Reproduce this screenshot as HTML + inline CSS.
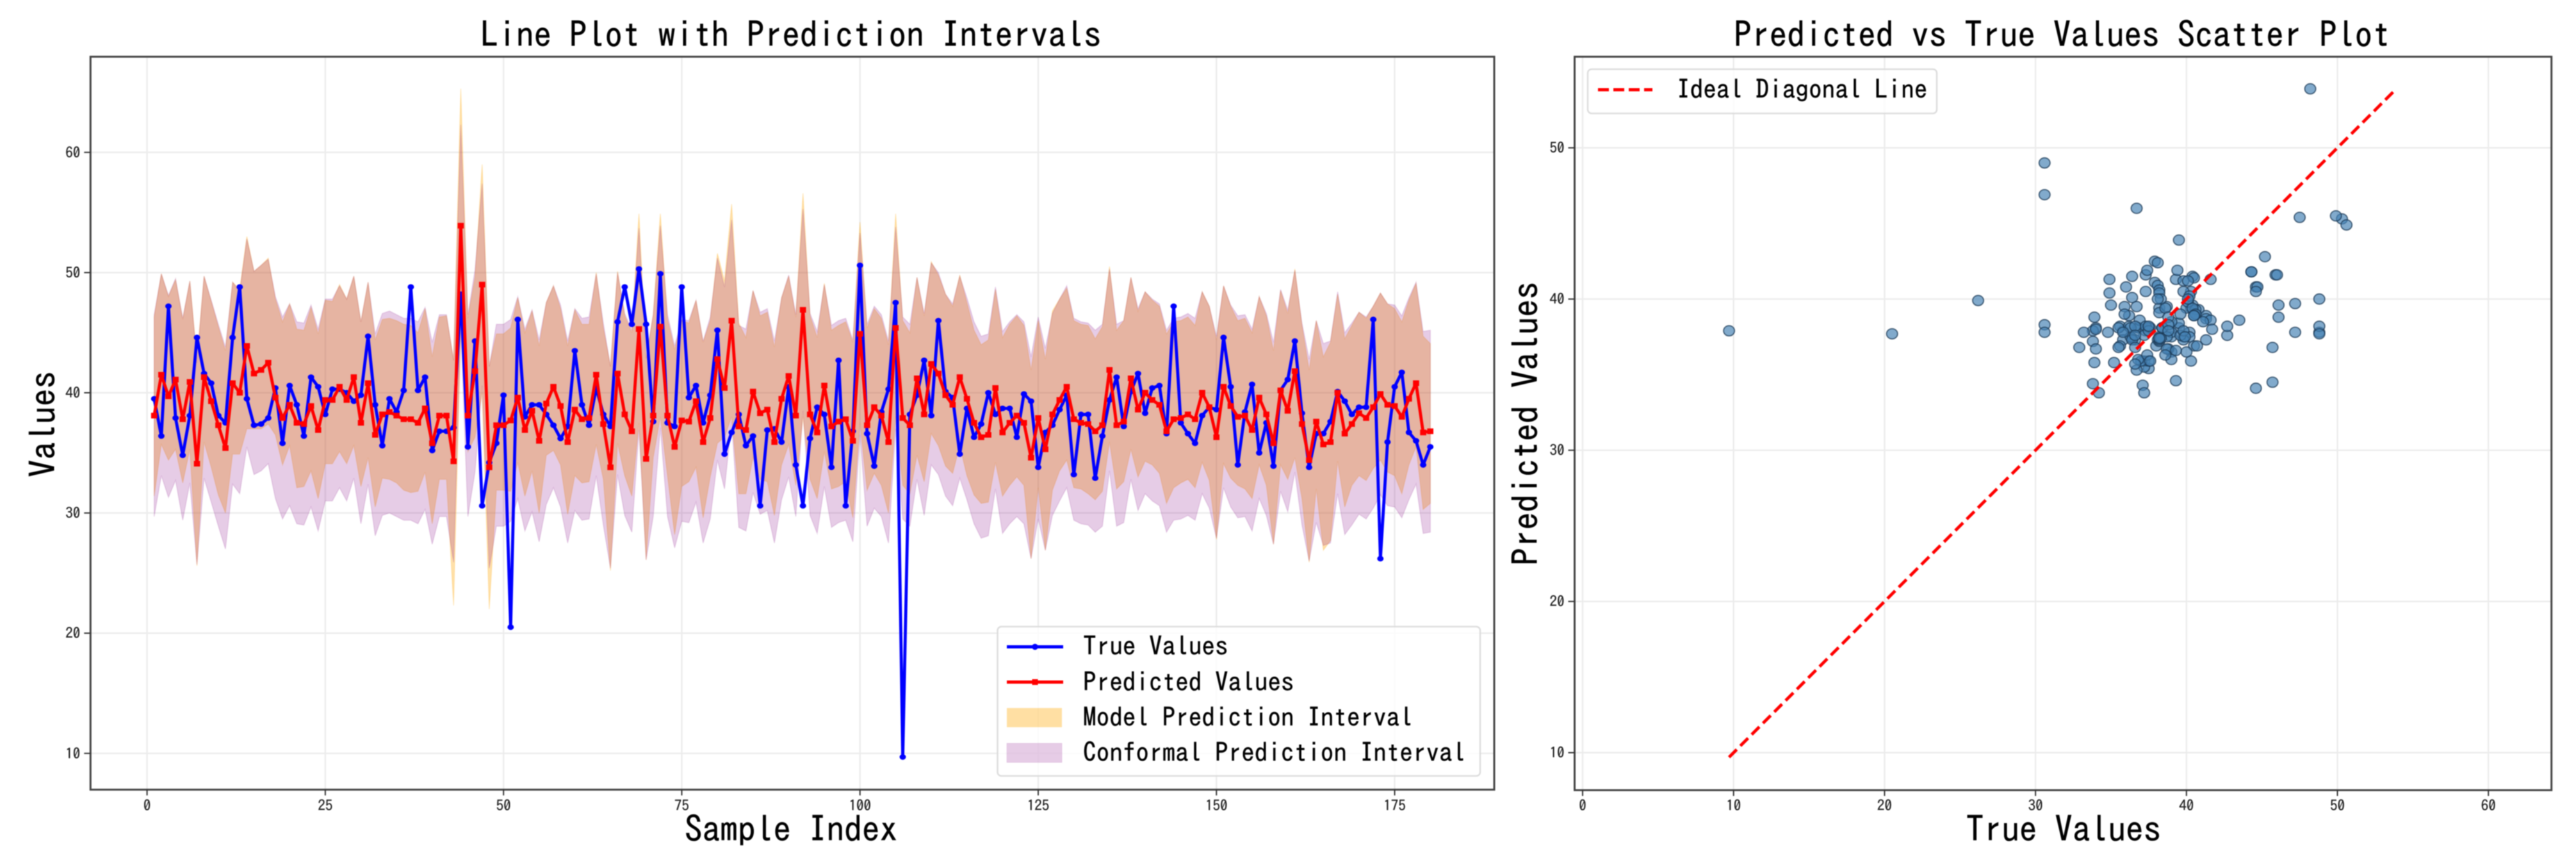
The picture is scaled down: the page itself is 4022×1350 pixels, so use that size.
<!DOCTYPE html>
<html lang="en">
<head>
<meta charset="utf-8">
<title>Prediction Interval Charts</title>
<style>
html,body{margin:0;padding:0;background:#fff;}
body{width:4022px;height:1350px;overflow:hidden;}
svg{display:block;filter:blur(0.7px);}
text{font-family:"IPAGothic","Liberation Mono","Noto Sans CJK JP",monospace;fill:#000;}
.title,.axis-title{font-size:55.4px;text-anchor:middle;stroke:#000;stroke-width:0.5px;}
.legend-text{font-size:41.2px;stroke:#000;stroke-width:0.4px;}
.tick-text{font-size:23px;fill:#222;stroke:#222;stroke-width:0.3px;}
</style>
</head>
<body>
<svg id="figure" width="4022" height="1350" viewBox="0 0 4022 1350" xmlns="http://www.w3.org/2000/svg">
  <rect x="0" y="0" width="4022" height="1350" fill="#fff"/>

  <g id="line-panel">
    <g id="line-grid"></g>
    <g id="line-bands"></g>
    <g id="line-series"></g>
    <rect x="141.3" y="88.5" width="2191.7" height="1143.9" fill="none" stroke="#444" stroke-width="3"/>
    <g id="line-ticks"></g>
    <text class="title" x="1235" y="74">Line Plot with Prediction Intervals</text>
    <text class="axis-title" x="1235" y="1314">Sample Index</text>
    <text class="axis-title" transform="translate(87 662) rotate(-90)">Values</text>
    <g>
      <rect x="1557.5" y="978" width="753.5" height="233" rx="6" fill="#fff" fill-opacity="0.8" stroke="#ddd" stroke-width="2.5"/>
      <g>
        <line x1="1572" y1="1009.5" x2="1660" y2="1009.5" stroke="#0000ff" stroke-width="5"/>
        <circle cx="1616" cy="1009.5" r="4.8" fill="#0000ff"/>
        <text class="legend-text" x="1691" y="1023">True Values</text>
      </g>
      <g>
        <line x1="1572" y1="1064.5" x2="1660" y2="1064.5" stroke="#ff0000" stroke-width="5"/>
        <rect x="1611.5" y="1060" width="9" height="9" fill="#ff0000"/>
        <text class="legend-text" x="1691" y="1079">Predicted Values</text>
      </g>
      <g>
        <rect x="1572" y="1105" width="86" height="30" fill="#ffa500" fill-opacity="0.36"/>
        <text class="legend-text" x="1691" y="1134">Model Prediction Interval</text>
      </g>
      <g>
        <rect x="1572" y="1160" width="86" height="30" fill="#800080" fill-opacity="0.2" stroke="#800080" stroke-opacity="0.1"/>
        <text class="legend-text" x="1691" y="1189">Conformal Prediction Interval</text>
      </g>
    </g>
  </g>

  <g id="scatter-panel">
    <g id="scatter-grid"></g>
    <g id="scatter-points"></g>
    <g id="scatter-diagonal"></g>
    <rect x="2458.5" y="88.5" width="1525.2" height="1144.7" fill="none" stroke="#444" stroke-width="3"/>
    <g id="scatter-ticks"></g>
    <text class="title" x="3219.5" y="74">Predicted vs True Values Scatter Plot</text>
    <text class="axis-title" x="3222" y="1314">True Values</text>
    <text class="axis-title" transform="translate(2402 661) rotate(-90)">Predicted Values</text>
    <g>
      <rect x="2479" y="108" width="545" height="69" rx="6" fill="#fff" fill-opacity="0.8" stroke="#ddd" stroke-width="2.5"/>
      <g>
        <line x1="2495" y1="140" x2="2580" y2="140" stroke="#ff0000" stroke-width="5" stroke-dasharray="17 7"/>
        <text class="legend-text" x="2618" y="154">Ideal Diagonal Line</text>
      </g>
    </g>
  </g>
</svg>

<script>
const trueValues = [
39.5,36.4,47.2,37.9,34.8,38.1,44.6,41.6,40.8,38.1,
37.5,44.6,48.8,39.5,37.3,37.4,37.9,40.4,35.8,40.6,
39.0,36.4,41.3,40.5,38.2,40.3,40.3,40.0,39.3,39.8,
44.7,39.0,35.6,39.5,38.4,40.2,48.8,40.2,41.3,35.2,
36.8,36.8,37.1,48.2,35.5,44.3,30.6,34.2,35.8,39.8,
20.5,46.1,38.0,39.0,39.0,38.2,37.3,36.2,37.2,43.5,
39.0,37.3,40.4,38.2,37.2,45.9,48.8,45.7,50.3,45.7,
37.6,49.9,37.5,37.2,48.8,39.6,40.6,37.5,39.8,45.2,
34.9,36.7,38.2,35.6,36.4,30.6,36.9,37.0,35.9,40.5,
34.0,30.6,36.2,38.8,38.2,33.8,42.7,30.6,36.8,50.6,
36.6,33.9,38.4,40.3,47.5,9.7,38.2,39.8,42.7,38.1,
46.0,40.1,39.6,34.9,38.7,36.3,37.4,40.0,38.2,38.7,
38.7,36.3,39.9,39.3,33.8,36.7,37.3,38.6,39.8,33.2,
38.2,38.2,32.9,36.4,39.4,41.3,37.2,40.1,41.6,38.3,
40.4,40.6,36.6,47.2,37.5,36.6,35.8,38.1,38.8,38.6,
44.6,40.5,34.0,38.4,40.7,35.0,37.5,33.9,40.2,41.1,
44.3,38.3,33.8,36.6,36.6,37.6,40.1,39.3,38.2,38.8,
38.8,46.1,26.2,35.9,40.5,41.7,36.7,36.0,34.0,35.5];

const predictedValues = [
38.1,41.5,39.7,41.1,37.8,40.9,34.1,41.3,39.3,37.3,
35.4,40.8,40.0,43.9,41.6,41.9,42.5,39.6,37.9,39.0,
37.5,37.4,38.9,36.9,39.4,39.4,40.5,39.4,41.3,37.5,
40.8,36.5,38.2,38.4,38.1,37.8,37.8,37.5,38.7,35.8,
38.1,38.1,34.3,53.9,38.1,41.8,49.0,33.8,37.3,37.3,
37.7,39.6,36.9,38.5,36.0,39.1,40.5,38.9,35.9,38.6,
37.8,37.9,41.5,37.4,33.8,41.6,38.2,36.8,45.3,34.5,
38.1,45.5,38.1,35.5,37.7,37.6,39.3,35.9,37.9,42.8,
40.4,46.0,37.2,36.9,40.1,38.3,38.6,35.9,39.5,41.4,
38.1,46.9,38.2,36.7,40.6,37.2,37.6,37.8,36.0,44.9,
37.3,38.8,38.1,35.9,45.4,37.9,37.3,41.2,38.2,42.4,
41.6,39.8,39.0,41.3,39.5,37.5,36.3,36.5,40.4,36.7,
37.5,38.1,37.5,34.6,37.9,35.3,38.2,39.4,40.5,37.8,
37.5,37.4,36.8,37.3,41.9,37.3,37.6,41.2,38.6,40.0,
39.4,39.0,36.8,37.8,37.9,38.2,37.8,40.0,38.8,36.3,
40.5,38.9,38.0,38.1,36.9,39.6,38.2,35.8,40.2,38.5,
41.8,37.4,34.4,37.6,35.7,35.9,40.0,36.6,37.4,38.3,
37.9,38.8,39.9,39.0,38.9,38.0,39.5,40.8,36.7,36.8];

const modelUpper = [
46.3,49.9,48.0,49.4,46.1,49.3,42.8,49.7,47.6,45.5,
43.5,49.2,48.6,53.0,50.1,50.6,51.2,47.8,45.9,47.4,
45.3,45.2,47.1,44.9,47.7,47.6,49.0,47.8,49.7,45.9,
49.2,44.4,46.1,46.2,46.0,45.7,45.6,45.0,47.0,43.0,
46.3,46.4,42.7,65.3,46.2,49.6,59.0,42.2,44.9,44.9,
45.4,47.9,45.0,46.8,43.9,47.5,48.9,47.0,43.9,46.9,
45.7,45.7,50.0,45.4,42.2,50.1,46.4,45.0,54.9,42.8,
46.5,54.9,46.1,43.6,46.0,45.8,47.7,44.2,46.0,51.6,
49.3,55.7,45.8,44.6,48.5,46.4,46.7,43.8,47.9,49.7,
46.3,56.6,46.4,44.6,49.1,45.2,45.6,45.9,44.2,54.2,
45.4,47.0,46.2,44.0,54.9,46.0,45.0,49.6,46.4,50.9,
49.8,48.2,47.2,49.8,47.5,45.2,44.0,44.4,48.6,44.6,
45.7,46.4,45.6,41.9,46.0,42.8,46.8,47.8,48.7,46.0,
45.7,45.6,44.5,45.5,50.5,45.2,46.0,49.6,46.8,48.4,
47.7,47.2,44.9,45.9,46.0,46.3,45.6,48.4,47.2,44.4,
48.9,47.2,46.0,46.2,45.0,48.0,46.4,43.5,48.5,46.6,
50.3,45.6,41.9,46.0,43.0,44.2,48.2,44.5,45.6,46.7,
46.2,47.2,48.3,47.4,47.0,45.9,47.7,49.1,44.7,44.1];

const modelLower = [
31.4,35.7,34.4,35.3,32.5,35.3,25.6,35.9,33.8,31.5,
30.0,34.9,34.9,37.0,37.0,37.0,37.4,36.5,34.0,35.6,
32.1,32.2,33.5,31.2,34.1,34.1,35.1,34.1,35.6,32.2,
34.6,30.5,32.9,32.8,32.5,31.9,31.7,31.8,33.4,29.1,
32.8,32.8,22.3,45.0,35.1,36.3,40.0,22.0,31.9,31.9,
31.8,34.2,31.4,33.5,30.0,34.8,35.2,34.0,29.9,33.1,
32.5,32.6,35.7,32.8,25.2,35.8,33.1,31.4,37.5,26.1,
34.6,38.0,33.1,28.2,32.2,32.6,33.8,29.6,33.0,35.8,
36.3,38.0,31.6,31.6,34.6,32.8,32.6,29.8,34.0,35.7,
32.3,38.0,32.8,31.2,35.1,32.0,32.2,32.6,29.6,37.5,
31.9,33.3,32.3,30.0,38.0,32.3,31.6,34.8,32.6,36.6,
35.6,33.9,33.3,35.6,33.1,31.5,30.8,30.9,34.2,31.4,
32.3,33.0,32.3,26.2,32.1,26.9,31.9,33.5,34.4,32.1,
32.0,31.6,31.1,31.8,35.9,32.0,32.6,35.3,33.0,34.3,
34.0,33.3,30.8,32.1,32.5,32.8,32.1,34.2,32.7,27.8,
34.1,32.9,32.3,32.0,31.2,34.0,32.3,27.4,34.0,32.8,
34.6,31.2,25.9,32.0,26.9,27.7,34.3,30.5,32.3,33.1,
32.7,33.7,34.4,33.4,33.1,31.6,34.0,35.5,30.3,30.8];

const conformalUpper = [
46.5,49.9,48.1,49.5,46.2,49.3,42.5,49.7,47.7,45.7,
43.8,49.2,48.4,52.8,50.1,50.6,51.1,48.0,46.3,47.4,
45.9,45.8,47.3,45.3,47.8,47.8,48.9,47.8,49.7,45.9,
49.2,44.9,46.6,46.8,46.5,46.2,46.2,45.9,47.1,44.2,
46.5,46.5,42.7,62.3,46.5,50.2,57.4,42.2,45.7,45.7,
46.1,48.0,45.3,46.9,44.4,47.5,48.9,47.3,44.3,47.0,
46.2,46.3,49.9,45.8,42.2,50.0,46.6,45.2,53.7,42.9,
46.5,53.9,46.5,43.9,46.1,46.0,47.7,44.3,46.3,51.2,
48.8,54.4,45.6,45.3,48.5,46.7,47.0,44.3,47.9,49.8,
46.5,55.3,46.6,45.1,49.0,45.6,46.0,46.2,44.4,53.3,
45.7,47.2,46.5,44.3,53.8,46.3,45.7,49.6,46.6,50.8,
50.0,48.2,47.4,49.7,47.9,45.9,44.7,44.9,48.8,45.1,
45.9,46.5,45.9,43.0,46.3,43.7,46.6,47.8,48.9,46.2,
45.9,45.8,45.2,45.7,50.3,45.7,46.0,49.6,47.0,48.4,
47.8,47.4,45.2,46.2,46.3,46.6,46.2,48.4,47.2,44.7,
48.9,47.3,46.4,46.5,45.3,48.0,46.6,44.2,48.6,46.9,
50.2,45.8,42.8,46.0,44.1,44.3,48.4,45.0,45.8,46.7,
46.3,47.2,48.3,47.4,47.3,46.4,47.9,49.2,45.1,45.2];

const conformalLower = [
29.7,33.1,31.3,32.7,29.4,32.5,25.7,32.9,30.9,28.9,
27.0,32.4,31.6,35.5,33.2,33.5,34.1,31.2,29.5,30.6,
29.1,29.0,30.5,28.5,31.0,31.0,32.1,31.0,32.9,29.1,
32.4,28.1,29.8,30.0,29.7,29.4,29.4,29.1,30.3,27.4,
29.7,29.7,25.9,45.5,29.7,33.4,40.6,25.4,28.9,28.9,
29.3,31.2,28.5,30.1,27.6,30.7,32.1,30.5,27.5,30.2,
29.4,29.5,33.1,29.0,25.4,33.2,29.8,28.4,36.9,26.1,
29.7,37.1,29.7,27.1,29.3,29.2,30.9,27.5,29.5,34.4,
32.0,37.6,28.8,28.5,31.7,29.9,30.2,27.5,31.1,33.0,
29.7,38.5,29.8,28.3,32.2,28.8,29.2,29.4,27.6,36.5,
28.9,30.4,29.7,27.5,37.0,29.5,28.9,32.8,29.8,34.0,
33.2,31.4,30.6,32.9,31.1,29.1,27.9,28.1,32.0,28.3,
29.1,29.7,29.1,26.2,29.5,26.9,29.8,31.0,32.1,29.4,
29.1,29.0,28.4,28.9,33.5,28.9,29.2,32.8,30.2,31.6,
31.0,30.6,28.4,29.4,29.5,29.8,29.4,31.6,30.4,27.9,
32.1,30.5,29.6,29.7,28.5,31.2,29.8,27.4,31.8,30.1,
33.4,29.0,26.0,29.2,27.3,27.5,31.6,28.2,29.0,29.9,
29.5,30.4,31.5,30.6,30.5,29.6,31.1,32.4,28.3,28.4];

const lineXTicks = [0,25,50,75,100,125,150,175];
const lineYTicks = [10,20,30,40,50,60];
const scatterXTicks = [0,10,20,30,40,50,60];
const scatterYTicks = [10,20,30,40,50];

const SVG_NS = 'http://www.w3.org/2000/svg';
const lineX = v => 229.6 + 11.131 * v;
const lineY = v => 1363.4 - 18.76 * v;
const scatterX = v => 2471 + 23.57 * v;
const scatterY = v => 1410.7 - 23.6 * v;

function make(tag, parentId) {
  const el = document.createElementNS(SVG_NS, tag);
  document.getElementById(parentId).appendChild(el);
  return el;
}
function setAll(el, props) {
  Object.keys(props).forEach(k => el.setAttribute(k, props[k]));
}
function pointsOf(xs, ys) {
  return xs.map((x, i) => x.toFixed(1) + ',' + ys[i].toFixed(1)).join(' ');
}

/* ---- axes: grid, ticks, tick labels ---- */
function drawAxes(cfg) {
  cfg.xTicks.forEach(t => {
    const gx = make('line', cfg.gridId);
    
    
    setAll(gx, {x1: cfg.x(t), x2: cfg.x(t), y1: cfg.top, y2: cfg.bottom, stroke: '#ececec', 'stroke-width': 2.4});
    const tk = make('line', cfg.tickId);
    
    
    setAll(tk, {x1: cfg.x(t), x2: cfg.x(t), y1: cfg.bottom, y2: cfg.bottom + 9, stroke: '#333', 'stroke-width': 2});
    const lb = make('text', cfg.tickId);
    
    
    setAll(lb, {x: cfg.x(t), y: 1265, 'text-anchor': 'middle', class: 'tick-text'});
    lb.textContent = t;
  });
  cfg.yTicks.forEach(t => {
    const gy = make('line', cfg.gridId);
    
    
    setAll(gy, {x1: cfg.left, x2: cfg.right, y1: cfg.y(t), y2: cfg.y(t), stroke: '#ececec', 'stroke-width': 2.4});
    const tk = make('line', cfg.tickId);
    
    
    setAll(tk, {x1: cfg.left - 10, x2: cfg.left, y1: cfg.y(t), y2: cfg.y(t), stroke: '#333', 'stroke-width': 2});
    const lb = make('text', cfg.tickId);
    
    
    setAll(lb, {x: cfg.left - 16, y: cfg.y(t) + 8, 'text-anchor': 'end', class: 'tick-text'});
    lb.textContent = t;
  });
}
drawAxes({gridId: 'line-grid', tickId: 'line-ticks', xTicks: lineXTicks, yTicks: lineYTicks, x: lineX, y: lineY, left: 141.3, right: 2333, top: 88.5, bottom: 1232.4});
drawAxes({gridId: 'scatter-grid', tickId: 'scatter-ticks', xTicks: scatterXTicks, yTicks: scatterYTicks, x: scatterX, y: scatterY, left: 2458.5, right: 3983.7, top: 88.5, bottom: 1233.2});

/* ---- interval bands ---- */
const sampleIdx = trueValues.map((_, i) => i + 1);
function bandPoints(upper, lower) {
  const xs = sampleIdx.map(lineX);
  const upperPts = pointsOf(xs, upper.map(lineY));
  const lowerPts = pointsOf(xs.slice().reverse(), lower.slice().reverse().map(lineY));
  return upperPts + ' ' + lowerPts;
}
const modelBand = make('polygon', 'line-bands');


setAll(modelBand, {points: bandPoints(modelUpper, modelLower), fill: '#ffa500', 'fill-opacity': 0.33, stroke: '#ffa500', 'stroke-opacity': 0.2, 'stroke-width': 1.5});
const conformalBand = make('polygon', 'line-bands');


setAll(conformalBand, {points: bandPoints(conformalUpper, conformalLower), fill: '#800080', 'fill-opacity': 0.2, stroke: '#800080', 'stroke-opacity': 0.14, 'stroke-width': 1.5});

/* ---- series lines and markers ---- */
const trueLine = make('polyline', 'line-series');


setAll(trueLine, {points: pointsOf(sampleIdx.map(lineX), trueValues.map(lineY)), fill: 'none', stroke: '#0000ff', 'stroke-width': 4.8, 'stroke-linejoin': 'round'});
trueValues.forEach((v, i) => {
  const m = make('ellipse', 'line-series');
  
  
  setAll(m, {cx: lineX(i + 1), cy: lineY(v), rx: 5, ry: 4.4, fill: '#0000ff'});
});
const predLine = make('polyline', 'line-series');


setAll(predLine, {points: pointsOf(sampleIdx.map(lineX), predictedValues.map(lineY)), fill: 'none', stroke: '#ff0000', 'stroke-width': 4.8, 'stroke-linejoin': 'round'});
predictedValues.forEach((v, i) => {
  const m = make('rect', 'line-series');
  
  
  setAll(m, {x: lineX(i + 1) - 4.8, y: lineY(v) - 4.4, width: 9.6, height: 8.8, fill: '#ff0000'});
});

/* ---- scatter ---- */
trueValues.forEach((v, i) => {
  const p = make('ellipse', 'scatter-points');
  
  
  setAll(p, {cx: scatterX(v), cy: scatterY(predictedValues[i]), rx: 8.6, ry: 8, fill: '#4682b4', 'fill-opacity': 0.68, stroke: '#1c3a55', 'stroke-opacity': 0.75, 'stroke-width': 1.8});
});
const allValues = trueValues.concat(predictedValues);
const diagMin = Math.min.apply(null, allValues);
const diagMax = Math.max.apply(null, allValues);
const diagonal = make('line', 'scatter-diagonal');


setAll(diagonal, {x1: scatterX(diagMin), y1: scatterY(diagMin), x2: scatterX(diagMax), y2: scatterY(diagMax), stroke: '#ff0000', 'stroke-width': 4.8, 'stroke-dasharray': '17 8'});
</script>
</body>
</html>
